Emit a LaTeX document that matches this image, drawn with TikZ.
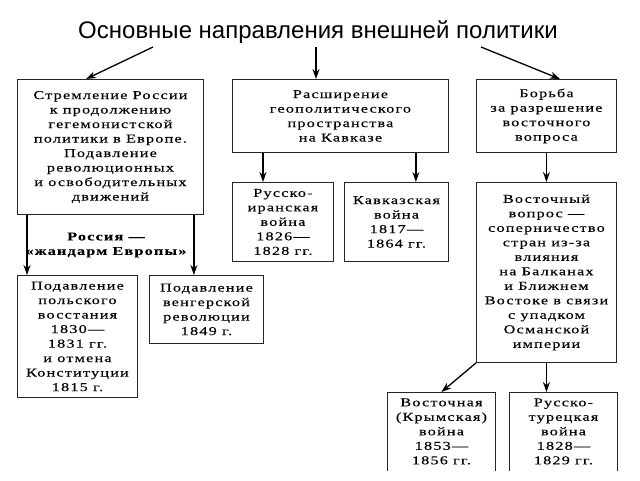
\documentclass[tikz,border=0pt]{standalone}
\usepackage{fontspec}
\usepackage{tikz}
\usetikzlibrary{arrows.meta}
\newfontfamily\titlefont{Liberation Sans}
\newfontfamily\boxfont[FakeStretch=1.35,LetterSpace=10,FakeBold=0.2]{Liberation Serif}
\tikzstyle{arrow} = [line width=1.3pt,-{Stealth[length=10pt,width=7pt]}]
\tikzstyle{box} = [rectangle, draw=black!85, line width=0.9pt, inner sep=0pt, align=center, anchor=north west,
font=\boxfont\fontsize{12}{14.5}\selectfont]
\tikzstyle{openbox} = [box, draw=none]
\tikzstyle{boxline} = [draw=black!85, line width=0.9pt]

\begin{document}
\begin{tikzpicture}[x=1pt,y=-1pt]
                 \useasboundingbox (0,0) rectangle (640,480);
                 \node (title) [font=\titlefont\fontsize{24}{27}\selectfont] at (318,32) {Основные направления внешней политики};
                 \coordinate (tl) at (153,47);
                 \coordinate (tm) at (316,47);
                 \coordinate (tr) at (481,47);
                 % upper row
                 \node (europe) [box, minimum width=186, minimum height=135] at (17,79) {Стремление России\\к продолжению\\гегемонистской\\политики в Европе.\\Подавление\\революционных\\и освободительных\\движений};
                 \node (caucasus) [box, minimum width=216, minimum height=73] at (232,79) {Расширение\\геополитического\\пространства\\на Кавказе};
                 \node (east) [box, minimum width=140, minimum height=73] at (476,79) {Борьба\\за разрешение\\восточного\\вопроса};
                 % middle row
                 \node (persia) [box, minimum width=101, minimum height=79] at (232,182) {Русско-\\иранская\\война\\1826—\\1828 гг.};
                 \node (caucwar) [box, minimum width=104, minimum height=79] at (344,182) {Кавказская\\война\\1817—\\1864 гг.};
                 \node (eastq) [box, minimum width=140, minimum height=180] at (476,182) {Восточный\\вопрос —\\соперничество\\стран из-за\\влияния\\на Балканах\\и Ближнем\\Востоке в связи\\с упадком\\Османской\\империи};
                 \node (gendarme) [font=\boxfont\bfseries\fontsize{12}{14.5}\selectfont, align=center] at (106,245) {Россия —\\«жандарм Европы»};
                 \node (poland) [box, minimum width=120, minimum height=122] at (17,275) {Подавление\\польского\\восстания\\1830—\\1831 гг.\\и отмена\\Конституции\\1815 г.};
                 \node (hungary) [box, minimum width=114, minimum height=68] at (149,275) {Подавление\\венгерской\\революции\\1849 г.};
                 % lower row, cut at the bottom
                 \node (crimea) [openbox, minimum width=108, minimum height=78] at (387,392) {Восточная\\(Крымская)\\война\\1853—\\1856 гг.};
                 \node (turkey) [openbox, minimum width=108, minimum height=78] at (509,392) {Русско-\\турецкая\\война\\1828—\\1829 гг.};
                 \draw [boxline] (crimea.south west) -- (crimea.north west) -- (crimea.north east) -- (crimea.south east);
                 \draw [boxline] (turkey.south west) -- (turkey.north west) -- (turkey.north east) -- (turkey.south east);
                 % arrows
                 \draw [arrow] (tl) -- ([xshift=69]europe.north west);
                 \draw [arrow] (tm) -- ([xshift=84]caucasus.north west);
                 \draw [arrow] (tr) -- ([xshift=84]east.north west);
                 \draw [arrow] ([xshift=10]europe.south west) -- ([xshift=10]poland.north west);
                 \draw [arrow] ([xshift=-10]europe.south east) -- ([xshift=-10]europe.south east |- hungary.north);
                 \draw [arrow] ([xshift=31]caucasus.south west) -- ([xshift=31]persia.north west);
                 \draw [arrow] ([xshift=-33]caucasus.south east) -- ([xshift=-33]caucasus.south east |- caucwar.north);
                 \draw [arrow] (east) -- (eastq);
                 \draw [arrow] (eastq.south west) -- (crimea.north);
                 \draw [arrow] (eastq.south) -- (eastq.south |- turkey.north);
             \end{tikzpicture}
\end{document}
